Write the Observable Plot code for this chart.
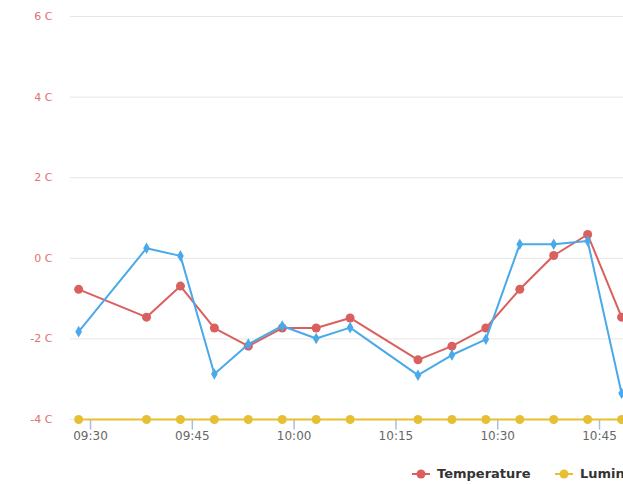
<!DOCTYPE html>
<html>
<head>
<meta charset="utf-8">
<script src="https://cdn.jsdelivr.net/npm/d3@7"></script>
<script src="https://cdn.jsdelivr.net/npm/@observablehq/plot@0.6"></script>
<style>
  html, body { margin: 0; padding: 0; background: #fff; overflow: hidden; }
  #wrap { position: relative; width: 623px; height: 484px; overflow: hidden; font-family: "Lucida Grande", "DejaVu Sans", sans-serif; }
  #legend { position: absolute; left: 0; top: 464px; width: 623px; height: 20px; white-space: nowrap; overflow: hidden; }
  .item { position: absolute; top: 0; height: 20px; font-size: 13px; font-weight: bold; color: #333; line-height: 20px; }
  .item svg { position: absolute; left: 0; top: 4px; }
  .item span { position: absolute; left: 25px; top: 0; }
</style>
</head>
<body>
<div id="wrap"><div id="chart"></div><div id="legend"></div></div>
<script>
const times = ["09:28:15","09:38:15","09:43:15","09:48:15","09:53:15","09:58:15","10:03:15","10:08:15","10:18:15","10:23:15","10:28:15","10:33:15","10:38:15","10:43:15","10:48:15"];
const temperature = [-0.77,-1.46,-0.69,-1.73,-2.18,-1.73,-1.73,-1.48,-2.52,-2.18,-1.73,-0.77,0.07,0.59,-1.46];
const humidity = [-1.82,0.25,0.06,-2.87,-2.13,-1.68,-1.99,-1.72,-2.90,-2.40,-2.01,0.35,0.35,0.43,-3.35];
const luminosity = [-4,-4,-4,-4,-4,-4,-4,-4,-4,-4,-4,-4,-4,-4,-4];
const yTicks = [-4,-2,0,2,4,6];
const xTickLabels = ["09:30","09:45","10:00","10:15","10:30","10:45"];
const seriesNames = ["Temperature","Luminosity","Humidity"];
const colors = {Temperature:"#d9605e", Luminosity:"#e6bf33", Humidity:"#4aa9e9"};

const parse = s => new Date("2020-01-01T" + s + "Z");
const rows = (vals, name) => times.map((t, i) => ({t: parse(t), v: vals[i], s: name}));
const tempData = rows(temperature, "Temperature");
const humData = rows(humidity, "Humidity");
const lumData = rows(luminosity, "Luminosity");
const xTicks = xTickLabels.map(s => parse(s + ":00"));
const tickRows = xTicks.map(t => ({t, a: -4, b: -4.25}));

const chart = Plot.plot({
  width: 623,
  height: 445,
  marginLeft: 70,
  marginRight: 0,
  marginTop: 16,
  marginBottom: 26,
  style: {fontFamily: '"Lucida Grande", "DejaVu Sans", sans-serif', overflow: "visible"},
  x: {type: "utc", domain: [parse("09:27:03"), parse("10:48:32")], ticks: xTicks, tickFormat: d3.utcFormat("%H:%M"), label: null},
  y: {domain: [-4, 6], ticks: yTicks, label: null},
  marks: [
    Plot.gridY(yTicks, {stroke: "#e6e6e6", strokeOpacity: 1, strokeWidth: 1}),
    Plot.axisY(yTicks, {tickSize: 0, tickPadding: 0, dx: -18, label: null, tickFormat: d => (d < 0 ? "-" + Math.abs(d) : d) + " C", fill: "#e07272", fontSize: 11}),
    Plot.link(tickRows, {x1: "t", x2: "t", y1: "a", y2: "b", stroke: "#a8bde6", strokeOpacity: 1, strokeWidth: 1.5}),
    Plot.axisX(xTicks, {tickSize: 0, tickPadding: 12, label: null, fill: "#666", fontSize: 12, tickFormat: d3.utcFormat("%H:%M")}),
    Plot.line(lumData, {x: "t", y: "v", stroke: colors.Luminosity, strokeWidth: 2}),
    Plot.dot(lumData, {x: "t", y: "v", fill: colors.Luminosity, r: 4.5}),
    Plot.line(tempData, {x: "t", y: "v", stroke: colors.Temperature, strokeWidth: 2}),
    Plot.dot(tempData, {x: "t", y: "v", fill: colors.Temperature, r: 4.5}),
    Plot.line(humData, {x: "t", y: "v", stroke: colors.Humidity, strokeWidth: 2}),
    Plot.dot(humData, {x: "t", y: "v", fill: colors.Humidity, symbol: "diamond", r: 3.5})
  ]
});
document.getElementById("chart").appendChild(chart);

const legendPos = {Temperature: 412, Luminosity: 555, Humidity: 700};
const legend = document.getElementById("legend");
seriesNames.forEach(name => {
  const d = document.createElement("div");
  d.className = "item";
  d.style.left = legendPos[name] + "px";
  const c = colors[name];
  const marker = name === "Humidity"
    ? `<path d="M9 2 L13 6 L9 10 L5 6 Z" fill="${c}"/>`
    : `<circle cx="9" cy="6" r="4.5" fill="${c}"/>`;
  d.innerHTML = `<svg width="18" height="12"><line x1="0" x2="18" y1="6" y2="6" stroke="${c}" stroke-width="2"/>${marker}</svg><span>${name}</span>`;
  legend.appendChild(d);
});
</script>
</body>
</html>
